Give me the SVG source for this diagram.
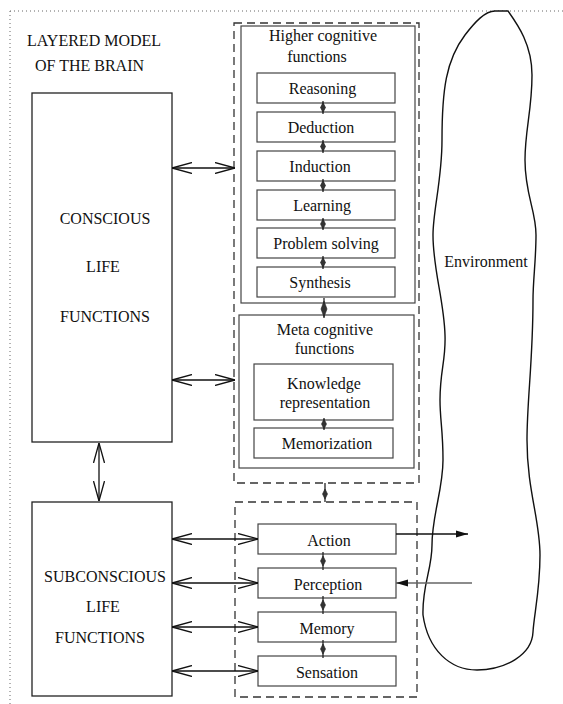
<svg xmlns="http://www.w3.org/2000/svg" xmlns:xlink="http://www.w3.org/1999/xlink" width="563" height="704" viewBox="0 0 563 704">
<style>
text{font-family:"Liberation Serif","Times New Roman",serif;font-size:16px;fill:#111}
.c{text-anchor:middle}
.big{fill:#fff;stroke:#222;stroke-width:1.3}
.box{fill:#fff;stroke:#444;stroke-width:1.2}
.dash{fill:none;stroke:#333;stroke-width:1.3;stroke-dasharray:8,5}
.dot{fill:none;stroke:#666;stroke-width:1;stroke-dasharray:1,3}
.arr{stroke:#111;stroke-width:1.3;fill:none;marker-start:url(#open);marker-end:url(#open)}
.lnk{stroke:#222;stroke-width:1.3}
.dia{fill:#333;stroke:#222;stroke-width:0.6}
</style>
<defs>
<marker id="open" viewBox="0 0 20 12" refX="20" refY="6" markerWidth="20" markerHeight="12" markerUnits="userSpaceOnUse" orient="auto-start-reverse">
<path d="M0,0.5 L20,6 L0,11.5" fill="none" stroke="#111" stroke-width="1.3"/>
</marker>
<marker id="fill" viewBox="0 0 12 8" refX="12" refY="4" markerWidth="12" markerHeight="8" markerUnits="userSpaceOnUse" orient="auto">
<path d="M0,0.5 L12,4 L0,7.5 Z" fill="#111"/>
</marker>
<marker id="fillg" viewBox="0 0 12 8" refX="12" refY="4" markerWidth="12" markerHeight="8" markerUnits="userSpaceOnUse" orient="auto">
<path d="M0,0.5 L12,4 L0,7.5 Z" fill="#111"/>
</marker>
<path id="dm" d="M0,-5 L2.5,0 L0,5 L-2.5,0 Z"/>
<path id="dmL" d="M0,-8 L3,0 L0,8 L-3,0 Z"/>
</defs>

<g id="frame">
<line class="dot" x1="10" y1="11" x2="563" y2="11"/>
<line class="dot" x1="10" y1="11" x2="10" y2="704"/>
</g>

<g id="title">
<text x="27" y="46">LAYERED MODEL</text>
<text x="35" y="70.5">OF THE BRAIN</text>
</g>

<g id="environment">
<path d="M495,11 L508,11 C518,25 532,45 532,75 C532,110 525,130 525,160 C525,195 536,210 536,235 C536,260 533,280 533,300 C533,360 527,400 527,440 C527,490 540,520 540,555 C540,590 534,615 533,632 C532,655 505,670 477,670 C450,670 428,650 423,615 C422,585 432,570 432,545 C432,515 443,490 443,460 C443,430 440,420 440,400 C440,370 446,360 445,335 C444,300 433,270 433,235 C433,210 442,180 442,140 C442,90 446,60 465,35 C475,22 485,11 495,11 Z" fill="#fff" stroke="#111" stroke-width="1.4"/>
<text class="c" x="486" y="267">Environment</text>
</g>

<g id="conscious">
<rect class="big" x="32" y="93" width="140" height="349"/>
<text class="c" x="105" y="224">CONSCIOUS</text>
<text class="c" x="103" y="272">LIFE</text>
<text class="c" x="105" y="322">FUNCTIONS</text>
</g>

<g id="subconscious">
<rect class="big" x="32" y="502" width="140" height="194"/>
<text class="c" x="105" y="582">SUBCONSCIOUS</text>
<text class="c" x="103" y="612">LIFE</text>
<text class="c" x="100" y="643">FUNCTIONS</text>
</g>

<g id="cognitive-layer">
<rect class="dash" x="234" y="23" width="185" height="460"/>
</g>

<g id="higher">
<rect class="box" x="241" y="26" width="174" height="277"/>
<text class="c" x="323" y="41">Higher cognitive</text>
<text class="c" x="317" y="61.5">functions</text>
</g>
<g id="reasoning"><rect class="box" x="257" y="73" width="138" height="30"/><text class="c" x="322.5" y="93.5">Reasoning</text></g>
<g id="deduction"><rect class="box" x="257" y="112" width="138" height="30"/><text class="c" x="321" y="132.5">Deduction</text></g>
<g id="induction"><rect class="box" x="257" y="151" width="138" height="30"/><text class="c" x="320" y="171.5">Induction</text></g>
<g id="learning"><rect class="box" x="257" y="190" width="138" height="30"/><text class="c" x="322" y="210.5">Learning</text></g>
<g id="problem-solving"><rect class="box" x="257" y="228" width="138" height="30"/><text class="c" x="326" y="248.5">Problem solving</text></g>
<g id="synthesis"><rect class="box" x="257" y="267" width="138" height="30"/><text class="c" x="320" y="287.5">Synthesis</text></g>

<g id="meta">
<rect class="box" x="239" y="315" width="175" height="153"/>
<text class="c" x="325" y="334.5">Meta cognitive</text>
<text class="c" x="324.5" y="354">functions</text>
</g>
<g id="knowledge"><rect class="box" x="254" y="364" width="139" height="56"/><text class="c" x="324" y="388.5">Knowledge</text><text class="c" x="325" y="408">representation</text></g>
<g id="memorization"><rect class="box" x="254" y="428" width="139" height="30"/><text class="c" x="327" y="449">Memorization</text></g>

<g id="base-layer">
<rect class="dash" x="235" y="502" width="182" height="195"/>
</g>
<g id="action"><rect class="box" x="258" y="524" width="138" height="30"/><text class="c" x="329" y="545.5">Action</text></g>
<g id="perception"><rect class="box" x="258" y="568" width="138" height="30"/><text class="c" x="328" y="589.5">Perception</text></g>
<g id="memory"><rect class="box" x="258" y="612" width="138" height="30"/><text class="c" x="327" y="633.5">Memory</text></g>
<g id="sensation"><rect class="box" x="258" y="656" width="138" height="30"/><text class="c" x="327" y="677.5">Sensation</text></g>

<g id="connectors">
<line class="arr" x1="172" y1="168" x2="235" y2="168"/>
<line class="arr" x1="172" y1="380" x2="235" y2="380"/>
<line class="arr" x1="99" y1="443" x2="99" y2="501"/>
<line class="arr" x1="172" y1="539" x2="258" y2="539"/>
<line class="arr" x1="172" y1="583" x2="258" y2="583"/>
<line class="arr" x1="172" y1="627" x2="258" y2="627"/>
<line class="arr" x1="172" y1="671" x2="258" y2="671"/>

<line x1="396" y1="534" x2="468" y2="534" stroke="#111" stroke-width="1.3" marker-end="url(#fill)"/>
<line x1="472" y1="583" x2="396" y2="583" stroke="#666" stroke-width="1.6" marker-end="url(#fillg)"/>

<line class="lnk" x1="323" y1="101" x2="323" y2="114"/><use class="dia" href="#dm" x="323" y="107.5"/>
<line class="lnk" x1="323" y1="140" x2="323" y2="153"/><use class="dia" href="#dm" x="323" y="146.5"/>
<line class="lnk" x1="323" y1="179" x2="323" y2="192"/><use class="dia" href="#dm" x="323" y="185.5"/>
<line class="lnk" x1="323" y1="218" x2="323" y2="230"/><use class="dia" href="#dm" x="323" y="224"/>
<line class="lnk" x1="323" y1="256" x2="323" y2="269"/><use class="dia" href="#dm" x="323" y="262.5"/>
<line class="lnk" x1="324" y1="298" x2="324" y2="318"/><use class="dia" href="#dmL" x="324" y="309"/>
<line class="lnk" x1="324" y1="418" x2="324" y2="430"/><use class="dia" href="#dm" x="324" y="424"/>
<line class="lnk" x1="325" y1="483" x2="325" y2="502"/><use class="dia" href="#dm" x="325" y="494"/>
<line class="lnk" x1="323" y1="552" x2="323" y2="570"/><use class="dia" href="#dm" x="323" y="561"/>
<line class="lnk" x1="323" y1="596" x2="323" y2="614"/><use class="dia" href="#dm" x="323" y="605"/>
<line class="lnk" x1="323" y1="640" x2="323" y2="658"/><use class="dia" href="#dm" x="323" y="649"/>
</g>
</svg>
